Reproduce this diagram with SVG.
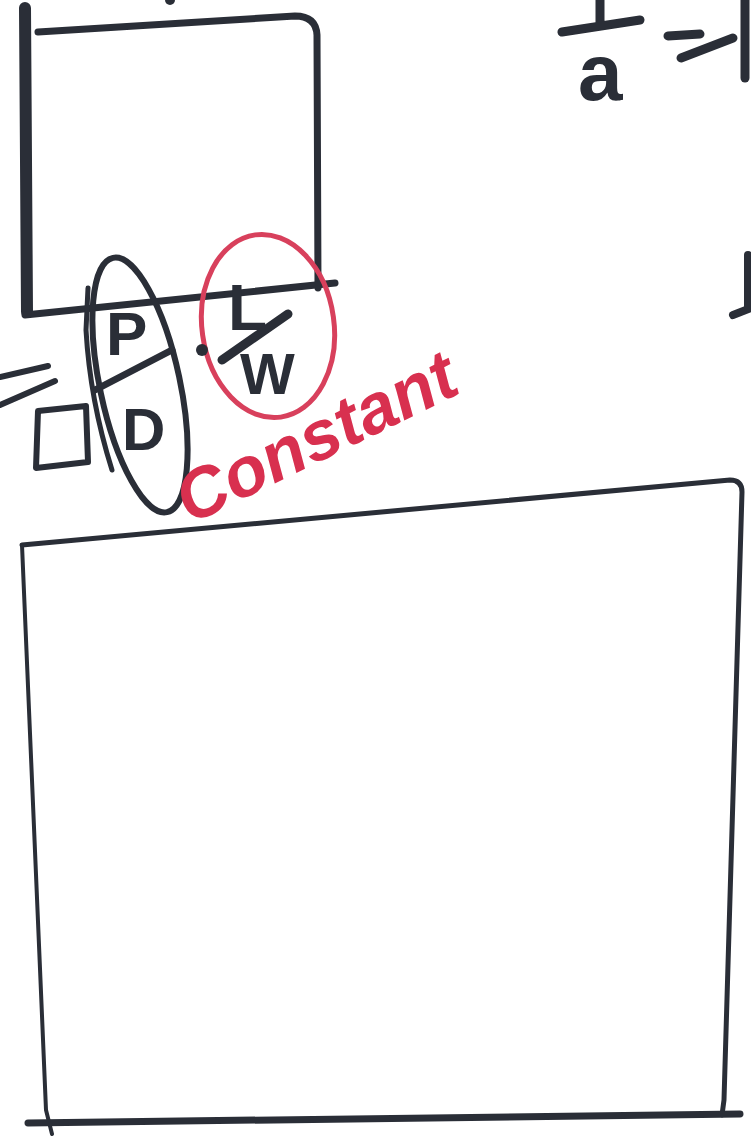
<svg xmlns="http://www.w3.org/2000/svg" width="751" height="1136" viewBox="0 0 751 1136">
<style>
.ink{fill:none;stroke:#2a2e37;stroke-linecap:round;stroke-linejoin:round}
.red{fill:none;stroke:#d8405c;stroke-linecap:round}
.t{font-family:"Liberation Sans",Arial,sans-serif;font-weight:bold;fill:#2a2e37}
.rt{font-family:"Liberation Sans",Arial,sans-serif;font-weight:bold;font-style:italic;fill:#d8304f}
</style>
<rect width="751" height="1136" fill="#ffffff"/>
<g id="top-box">
<path class="ink" stroke-width="12" d="M25 8 L27 312"/>
<path class="ink" stroke-width="7" d="M38 32 L295 16 Q316 16 317 35 L318 288"/>
<path class="ink" stroke-width="7" d="M25 315 L335 283"/>
</g>
<g id="top-right">
<path class="ink" stroke-width="9" d="M600 0 L600 25 M562 32 L640 20"/>
<text class="t" x="578" y="100" font-size="80">a</text>
<path class="ink" stroke-width="9" d="M668 36 L700 34 M681 58 L733 38"/>
<path class="ink" stroke-width="9" d="M745 0 L745 78"/>
<path class="ink" stroke-width="8" d="M748 255 L748 308 M733 315 L751 308"/>
<circle cx="170" cy="0" r="5" fill="#2a2e37"/>
</g>
<g id="pd-node">
<ellipse class="ink" stroke-width="6" cx="140" cy="385" rx="40" ry="130" transform="rotate(-12 140 385)"/>
<path class="ink" stroke-width="5" d="M88 288 L86 330 Q90 400 112 470"/>
<text class="t" x="106" y="355" font-size="62">P</text>
<path class="ink" stroke-width="7" d="M95 390 L172 350"/>
<text class="t" x="122" y="450" font-size="60">D</text>
</g>
<g id="equals-square">
<path class="ink" stroke-width="6" d="M0 377 L48 366 M0 405 L55 381"/>
<path class="ink" stroke-width="6" d="M38 411 L86 406 L88 462 L36 468 Z"/>
</g>
<g id="lw-node">
<ellipse class="red" stroke-width="5" cx="268" cy="326" rx="66" ry="92" transform="rotate(-8 268 326)"/>
<circle cx="202" cy="350" r="6" fill="#2a2e37"/>
<text class="t" x="228" y="330" font-size="64">L</text>
<path class="ink" stroke-width="9" d="M222 360 L288 314"/>
<text class="t" x="240" y="394" font-size="58">W</text>
<text class="rt" font-size="70" transform="translate(190 525) rotate(-26)">Constant</text>
</g>
<g id="bottom-box">
<path class="ink" stroke-width="5" d="M22 545 L730 480 Q742 480 742 492 L724 1100 L722 1115"/>
<path class="ink" stroke-width="4" d="M22 545 L46 1110 L52 1134"/>
<path class="ink" stroke-width="7" d="M28 1123 L740 1114"/>
</g>
<g id="connectors"></g>
</svg>
